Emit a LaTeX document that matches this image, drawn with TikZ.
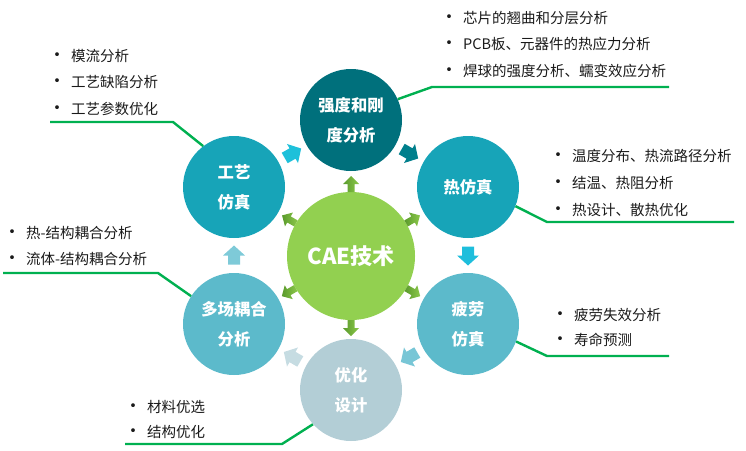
\documentclass[tikz,border=0pt]{standalone}
\usepackage{fontspec}
\setmainfont{Noto Sans CJK SC}
\usetikzlibrary{calc}
\definecolor{cqd}{HTML}{00707C}
\definecolor{crf}{HTML}{17A4B8}
\definecolor{cpl}{HTML}{5CBACB}
\definecolor{cyh}{HTML}{B3CED6}
\definecolor{ccae}{HTML}{92D050}
\definecolor{lineg}{HTML}{00B050}
\definecolor{txtc}{HTML}{1A1A1A}
\definecolor{aone}{HTML}{1EC0DA}
\definecolor{atwo}{HTML}{007F8C}
\definecolor{athree}{HTML}{1EBEDC}
\definecolor{afour}{HTML}{78C6D6}
\definecolor{afive}{HTML}{C6DCE2}
\definecolor{asix}{HTML}{7ECAD8}
\definecolor{gdark}{HTML}{5A9A2C}
\definecolor{glight}{HTML}{8CC84B}
\newcommand\bitem[1]{\makebox[28pt][c]{\fontsize{18}{18}\selectfont •}#1}
\begin{document}
\begin{tikzpicture}[x=1pt,y=-1pt,
  circ/.style={circle, minimum size=102pt, inner sep=0pt, text=white,
    font=\fontsize{16.3}{30}\selectfont\bfseries, align=center},
  item/.style={anchor=west, inner sep=0pt, text=txtc,
    font=\fontsize{14.5}{16}\selectfont, text height=12.6pt, text depth=1.8pt},
  callout/.style={draw=lineg, line width=2.4pt},
  blockarr/.pic={\fill[#1] (-9,-6) -- (0,-6) -- (0,-11) -- (10,0) -- (0,11) -- (0,6) -- (-9,6) -- cycle;},
  greenarr/.pic={\shade[left color=gdark, right color=glight] (-8,-3.5) -- (0,-3.5) -- (0,-8) -- (8,0) -- (0,8) -- (0,3.5) -- (-8,3.5) -- cycle;}
]
\useasboundingbox (0,0) rectangle (746,450);

% circles
\node[circ, fill=cqd] (qd) at (351,120) {强度和刚\\度分析};
\node[circ, fill=crf] (rf) at (468,187) {热仿真};
\node[circ, fill=cpl] (pl) at (468,324) {疲劳\\仿真};
\node[circ, fill=cyh] (yh) at (351,390) {优化\\设计};
\node[circ, fill=cpl] (dc) at (234,324) {多场耦合\\分析};
\node[circ, fill=crf] (gy) at (234,187) {工艺\\仿真};
\node[circle, minimum size=128pt, inner sep=0pt, fill=ccae, text=white,
  font=\fontsize{22}{26}\selectfont\bfseries] (cae) at (351,256) {CAE技术};

% green arrows out of the centre
\pic[rotate=90] at ($(cae)!72pt!(qd)$) {greenarr};
\pic[rotate=30] at ($(cae)!72pt!(rf)$) {greenarr};
\pic[rotate=-30] at ($(cae)!72pt!(pl)$) {greenarr};
\pic[rotate=-90] at ($(cae)!72pt!(yh)$) {greenarr};
\pic[rotate=-150] at ($(cae)!72pt!(dc)$) {greenarr};
\pic[rotate=150] at ($(cae)!72pt!(gy)$) {greenarr};

% block arrows around the ring
\pic[rotate=30] at ($(gy)!0.5!(qd)$) {blockarr=aone};
\pic[rotate=-30] at ($(qd)!0.5!(rf)$) {blockarr=atwo};
\pic[rotate=-90] at ($(rf)!0.5!(pl)$) {blockarr=athree};
\pic[rotate=-150] at ($(pl)!0.5!(yh)$) {blockarr=afour};
\pic[rotate=150] at ($(yh)!0.5!(dc)$) {blockarr=afive};
\pic[rotate=90] at ($(dc)!0.5!(gy)$) {blockarr=asix};

% callout lines
\coordinate (qdb) at (432,87);  \coordinate (qde) at (669,87);
\coordinate (rfb) at (547,222); \coordinate (rfe) at (734,222);
\coordinate (plb) at (547,356); \coordinate (ple) at (669,356);
\coordinate (yhb) at (282,444); \coordinate (yhe) at (125,444);
\coordinate (dcb) at (158,273); \coordinate (dce) at (3,273);
\coordinate (gyb) at (173,122); \coordinate (gye) at (50,122);
\draw[callout] (qd.24) -- (qdb) -- (qde);
\draw[callout] (rf.-22) -- (rfb) -- (rfe);
\draw[callout] (pl.-20) -- (plb) -- (ple);
\draw[callout] (yh.-138) -- (yhb) -- (yhe);
\draw[callout] (dc.147) -- (dcb) -- (dce);
\draw[callout] (gy.127) -- (gyb) -- (gye);

% bullet lists
\foreach \t [count=\i] in {芯片的翘曲和分层分析, PCB板、元器件的热应力分析, 焊球的强度分析、蠕变效应分析}
  \node[item] (lqd\i) at (435, {18+26.5*(\i-1)}) {\bitem{\t}};
\foreach \t [count=\i] in {温度分布、热流路径分析, 结温、热阻分析, 热设计、散热优化}
  \node[item] (lrf\i) at (544, {156.5+27*(\i-1)}) {\bitem{\t}};
\foreach \t [count=\i] in {疲劳失效分析, 寿命预测}
  \node[item] (lpl\i) at (546, {315+25.5*(\i-1)}) {\bitem{\t}};
\foreach \t [count=\i] in {材料优选, 结构优化}
  \node[item] (lyh\i) at (119, {407+25*(\i-1)}) {\bitem{\t}};
\foreach \t [count=\i] in {热-结构耦合分析, 流体-结构耦合分析}
  \node[item] (ldc\i) at (-2, {233+26*(\i-1)}) {\bitem{\t}};
\foreach \t [count=\i] in {模流分析, 工艺缺陷分析, 工艺参数优化}
  \node[item] (lgy\i) at (43, {56+26.5*(\i-1)}) {\bitem{\t}};
\end{tikzpicture}
\end{document}
